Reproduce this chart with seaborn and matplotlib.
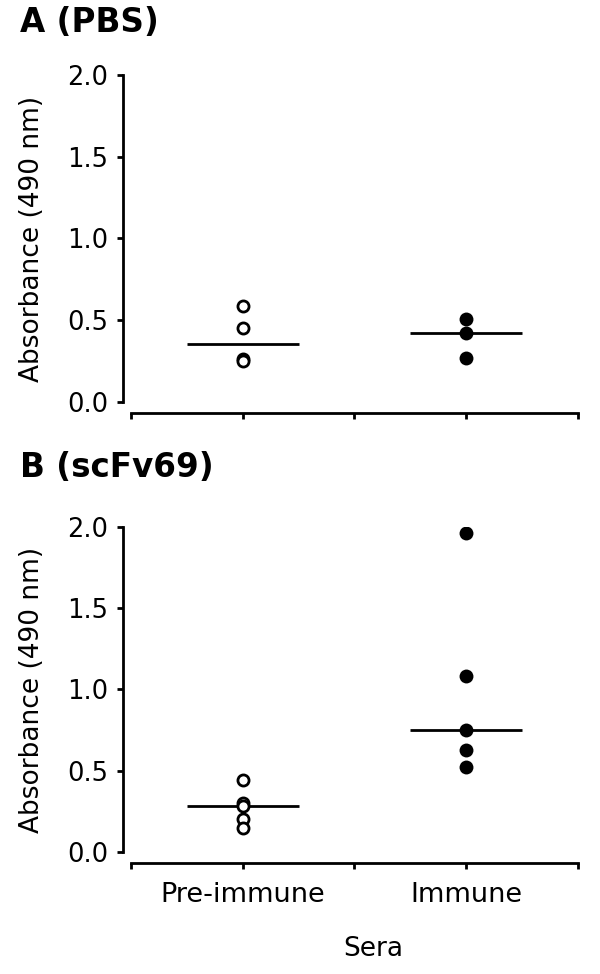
import numpy as np
import pandas as pd
import matplotlib
matplotlib.use("Agg")
import matplotlib.pyplot as plt
import seaborn as sns

# Sera groups and absorbance values (490 nm)
groups = ["Pre-immune", "Immune"]
pbsPre = [0.59, 0.45, 0.26, 0.25]
pbsImm = [0.51, 0.42, 0.27]
scfvPre = [0.44, 0.30, 0.28, 0.20, 0.15]
scfvImm = [1.96, 1.08, 0.75, 0.63, 0.52]

panels = [("A (PBS)", pbsPre, pbsImm), ("B (scFv69)", scfvPre, scfvImm)]

sns.set_theme(style="ticks")
plt.rcParams["font.family"] = ["DejaVu Sans"]
plt.rcParams["text.color"] = "black"
plt.rcParams["axes.labelcolor"] = "black"

fig = plt.figure(figsize=(6, 9.74), dpi=100)

# axes rectangles in figure fractions
axRects = [[0.2183, 0.5873, 0.745, 0.3357], [0.2183, 0.1253, 0.745, 0.3337]]
titleY = [0.977, 0.5205]

for i, (title, pre, imm) in enumerate(panels):
    ax = fig.add_axes(axRects[i])
    df = pd.DataFrame({"Sera": ["Pre-immune"] * len(pre) + ["Immune"] * len(imm),
                       "Absorbance": pre + imm})

    sns.stripplot(data=df[df["Sera"] == "Pre-immune"], x="Sera", y="Absorbance", order=groups,
                  jitter=False, color="white", edgecolor="black", linewidth=2, size=8, ax=ax)
    sns.stripplot(data=df[df["Sera"] == "Immune"], x="Sera", y="Absorbance", order=groups,
                  jitter=False, color="black", edgecolor="black", linewidth=0, size=10, ax=ax)

    # median lines
    medians = df.groupby("Sera")["Absorbance"].median()
    for j, g in enumerate(groups):
        ax.hlines(medians[g], j - 0.25, j + 0.25, color="black", lw=2, zorder=1)

    ax.set_xlim(-0.5, 1.5)
    ax.set_ylim(0, 2.0)
    ax.set_yticks([0, 0.5, 1.0, 1.5, 2.0])
    ax.set_yticklabels(["0.0", "0.5", "1.0", "1.5", "2.0"])
    ax.set_xticks([-0.5, 0, 0.5, 1, 1.5])
    if i == 1:
        ax.set_xticklabels(["", "Pre-immune", "", "Immune", ""])
        ax.set_xlabel("Sera", fontsize=19)
        ax.xaxis.set_label_coords(0.541, -0.26)
    else:
        ax.set_xticklabels([])
        ax.set_xlabel("")
    ax.set_ylabel("Absorbance (490 nm)", fontsize=19)
    ax.yaxis.set_label_coords(-0.192, 0.5)

    sns.despine(ax=ax)
    ax.spines["left"].set_position(("outward", 5.8))
    ax.spines["bottom"].set_position(("outward", 7.9))
    ax.spines["left"].set_bounds(0, 2.0)
    ax.spines["bottom"].set_bounds(-0.5, 1.5)
    for s in ["left", "bottom"]:
        ax.spines[s].set_linewidth(2)
        ax.spines[s].set_color("black")
    ax.tick_params(axis="y", labelsize=18.5, width=2, length=4.5, pad=6, colors="black")
    ax.tick_params(axis="x", labelsize=19.5, width=2, length=4, pad=10, colors="black")

    fig.text(0.033, titleY[i], title, fontsize=23.5, fontweight="bold", ha="left", va="center")

fig.savefig("out.png", dpi=100, facecolor="white")
